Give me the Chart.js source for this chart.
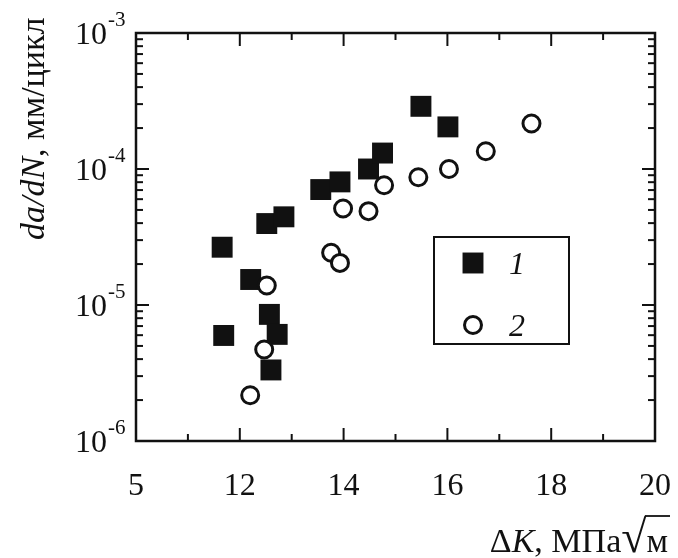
<!DOCTYPE html>
<html lang="ru">
<head>
  <meta charset="UTF-8">
  <title>da/dN vs ΔK</title>
  <script src="https://cdn.jsdelivr.net/npm/chart.js@4"></script>
  <style>
    body { margin: 0; background: #fff; }
    #wrap { width: 678px; height: 558px; }
  </style>
</head>
<body>
  <div id="wrap"><canvas id="chart" width="678" height="558"></canvas></div>

  <script>
    // series 1 (filled squares)
    const dK1 = [11.66, 12.21, 11.69, 12.52, 12.85, 12.57, 12.72, 12.60, 13.56, 13.93, 14.48, 14.75, 15.49, 16.01];
    const rate1 = [2.66e-5, 1.54e-5, 5.97e-6, 3.97e-5, 4.45e-5, 8.53e-6, 6.08e-6, 3.33e-6, 7.06e-5, 8.04e-5, 1.0e-4, 1.31e-4, 2.89e-4, 2.04e-4];
    // series 2 (open circles)
    const dK2 = [17.62, 16.74, 16.03, 15.44, 14.78, 14.48, 13.99, 13.76, 13.93, 12.52, 12.47, 12.20];
    const rate2 = [2.16e-4, 1.35e-4, 1.0e-4, 8.7e-5, 7.6e-5, 4.9e-5, 5.12e-5, 2.42e-5, 2.04e-5, 1.39e-5, 4.71e-6, 2.17e-6];

    const seriesNames = ["1", "2"];
    const xTickValues = [10, 12, 14, 16, 18, 20];
    const xTickLabels = ["5", "12", "14", "16", "18", "20"];
    const yTickExps = [-3, -4, -5, -6];
    const xTitle = ["Δ", "K", ", МПа", "√", "м"];
    const yTitle = ["da/dN", ", мм/цикл"];

    const SERIF = '"Liberation Serif", "Times New Roman", serif';

    function line(ctx, x1, y1, x2, y2) {
      ctx.beginPath(); ctx.moveTo(x1, y1); ctx.lineTo(x2, y2); ctx.stroke();
    }

    const overlay = {
      id: "overlay",
      afterDraw(chart) {
        const { ctx, chartArea: a, scales: { x, y } } = chart;
        ctx.save();
        ctx.strokeStyle = "#111";
        ctx.fillStyle = "#111";

        // inward ticks on all four sides
        ctx.lineWidth = 2;
        for (let v = 11; v < 20; v++) {
          const px = x.getPixelForValue(v);
          const len = v % 2 === 0 ? 13 : 7;
          line(ctx, px, a.bottom, px, a.bottom - len);
          line(ctx, px, a.top, px, a.top + len);
        }
        for (let e = -6; e < -3; e++) {
          for (let m = 1; m < 10; m++) {
            if (m === 1 && e === -6) continue;
            const py = y.getPixelForValue(m * Math.pow(10, e));
            const len = m === 1 ? 13 : 7;
            line(ctx, a.left, py, a.left + len, py);
            line(ctx, a.right, py, a.right - len, py);
          }
        }
        ctx.lineWidth = 2.5;
        ctx.strokeRect(a.left, a.top, a.right - a.left, a.bottom - a.top);

        // x tick labels
        ctx.font = "32px " + SERIF;
        ctx.textAlign = "center";
        ctx.textBaseline = "alphabetic";
        xTickValues.forEach((v, i) => {
          ctx.fillText(xTickLabels[i], x.getPixelForValue(v), a.bottom + 54);
        });

        // y tick labels 10^n
        yTickExps.forEach(e => {
          const py = y.getPixelForValue(Math.pow(10, e));
          ctx.font = "32px " + SERIF;
          ctx.textAlign = "right";
          ctx.fillText("10", a.left - 29, py + 11);
          ctx.font = "21px " + SERIF;
          ctx.textAlign = "left";
          ctx.fillText(String(e), a.left - 28, py - 7);
        });

        // x title, right aligned
        const fx = 34;
        const fonts = ["", "italic ", "", "", ""].map(s => s + fx + "px " + SERIF);
        fonts[3] = "46px " + SERIF;
        const widths = xTitle.map((t, i) => { ctx.font = fonts[i]; return ctx.measureText(t).width; });
        const total = widths.reduce((s, w) => s + w, 0);
        let cx = a.right + 13 - total;
        const base = 552;
        ctx.textAlign = "left";
        let rootEnd = 0, rootTop = 0;
        xTitle.forEach((t, i) => {
          ctx.font = fonts[i];
          ctx.fillText(t, cx, base);
          if (t === "√") {
            rootEnd = cx + widths[i];
            rootTop = base - ctx.measureText(t).actualBoundingBoxAscent;
          }
          cx += widths[i];
        });
        ctx.lineWidth = 1.8;
        line(ctx, rootEnd - 1.5, rootTop + 1, cx + 2, rootTop + 1);

        // y title, rotated
        ctx.save();
        ctx.translate(44, 240);
        ctx.rotate(-Math.PI / 2);
        let ty = 0;
        yTitle.forEach((t, i) => {
          ctx.font = (i === 0 ? "italic " : "") + "34px " + SERIF;
          ctx.fillText(t, ty, 0);
          ty += ctx.measureText(t).width;
        });
        ctx.restore();

        // legend box
        const lx = a.left + 298, ly = a.top + 204, lw = 135, lh = 107;
        ctx.lineWidth = 2;
        ctx.strokeStyle = "#111";
        ctx.strokeRect(lx, ly, lw, lh);
        const items = chart.data.datasets;
        [ly + 26, ly + 88].forEach((iy, i) => {
          const ds = items[i === 0 ? 1 : 0];
          ctx.fillStyle = ds.backgroundColor;
          ctx.strokeStyle = ds.borderColor;
          ctx.lineWidth = ds.borderWidth;
          Chart.helpers.drawPoint(ctx, {
            pointStyle: ds.pointStyle, radius: ds.pointRadius, borderWidth: ds.borderWidth
          }, lx + 39, iy);
          ctx.fillStyle = "#111";
          ctx.font = "italic 32px " + SERIF;
          ctx.textAlign = "center";
          ctx.fillText(seriesNames[i], lx + 83, iy + 11);
        });
        ctx.restore();
      }
    };

    new Chart(document.getElementById("chart"), {
      type: "scatter",
      data: {
        datasets: [
          {
            label: seriesNames[1],
            data: dK2.map((v, i) => ({ x: v, y: rate2[i] })),
            pointStyle: "circle",
            pointRadius: 8.5,
            backgroundColor: "#fff",
            borderColor: "#111",
            borderWidth: 3,
            order: 0
          },
          {
            label: seriesNames[0],
            data: dK1.map((v, i) => ({ x: v, y: rate1[i] })),
            pointStyle: "rect",
            pointRadius: 14.8,
            backgroundColor: "#111",
            borderColor: "#111",
            borderWidth: 0,
            order: 1
          }
        ]
      },
      options: {
        responsive: false,
        animation: false,
        devicePixelRatio: 1,
        layout: { padding: { left: 136, right: 23, top: 33, bottom: 117 } },
        plugins: { legend: { display: false }, tooltip: { enabled: false } },
        scales: {
          x: { type: "linear", min: 10, max: 20, display: false },
          y: { type: "logarithmic", min: 1e-6, max: 1e-3, display: false }
        }
      },
      plugins: [overlay]
    });
  </script>
</body>
</html>
